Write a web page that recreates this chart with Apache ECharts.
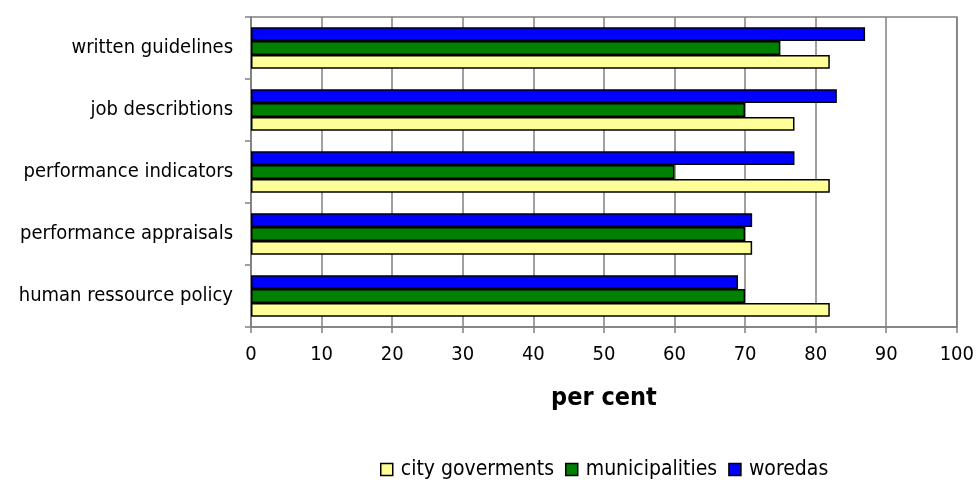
<!DOCTYPE html>
<html>
<head>
<meta charset="utf-8">
<script src="https://cdn.jsdelivr.net/npm/echarts@6/dist/echarts.min.js"></script>
<style>
  html, body { margin: 0; padding: 0; background: #ffffff; }
  #chart { width: 977px; height: 480px; }
</style>
</head>
<body>
<div id="chart"></div>
<script>
// Categories listed bottom to top (category y axis runs upward)
var categories = [
  'human ressource policy',
  'performance appraisals',
  'performance indicators',
  'job describtions',
  'written guidelines'
];
var seriesNames = ['city goverments', 'municipalities', 'woredas'];
var cityGoverments = [82, 71, 82, 77, 82];
var municipalities = [70, 70, 60, 70, 75];
var woredas = [69, 71, 77, 83, 87];
var xTicks = { min: 0, max: 100, interval: 10 };

var FONT = '"DejaVu Sans Condensed", "DejaVu Sans", sans-serif';
var colors = { 'city goverments': '#FFFF99', 'municipalities': '#008000', 'woredas': '#0000FF' };
var values = { 'city goverments': cityGoverments, 'municipalities': municipalities, 'woredas': woredas };

// Within a group the first series sits at the top, so add them in reverse
// to keep city goverments at the bottom of each group.
var series = seriesNames.slice().reverse().map(function (name) {
  return {
    name: name,
    type: 'bar',
    data: values[name],
    barGap: '0%',
    barCategoryGap: '33%',
    itemStyle: { color: colors[name], borderColor: '#000000', borderWidth: 1.5 },
    emphasis: { disabled: true },
    animation: false
  };
});

var chart = echarts.init(document.getElementById('chart'), null, { renderer: 'canvas' });

chart.setOption({
  animation: false,
  backgroundColor: '#ffffff',
  textStyle: { fontFamily: FONT },
  grid: { left: 251, right: 16, top: 17, bottom: 153, containLabel: false, show: true, borderColor: '#808080', borderWidth: 1.5 },
  legend: {
    data: seriesNames,
    top: 459,
    left: 375,
    padding: [0, 5, 0, 5],
    icon: 'rect',
    itemWidth: 12,
    itemHeight: 12,
    itemGap: 11,
    selectedMode: false,
    itemStyle: { borderColor: '#000000', borderWidth: 1.5 },
    textStyle: { fontFamily: FONT, fontSize: 21, color: '#000000', padding: [0, 0, 0, 3] }
  },
  xAxis: {
    type: 'value',
    min: xTicks.min,
    max: xTicks.max,
    interval: xTicks.interval,
    name: 'per cent',
    nameLocation: 'middle',
    nameGap: 59,
    nameTextStyle: { fontFamily: FONT, fontSize: 25, fontWeight: 'bold', color: '#000000' },
    axisLine: { show: true, lineStyle: { color: '#808080', width: 1.5 } },
    axisTick: { show: true, length: 6, lineStyle: { color: '#808080', width: 1.5 } },
    axisLabel: { fontFamily: FONT, fontSize: 20, color: '#000000', margin: 18 },
    splitLine: { show: true, lineStyle: { color: '#808080', width: 1.5 } }
  },
  yAxis: {
    type: 'category',
    data: categories,
    axisLine: { show: true, lineStyle: { color: '#808080', width: 1.5 } },
    axisTick: { show: true, length: 6, lineStyle: { color: '#808080', width: 1.5 } },
    axisLabel: { fontFamily: FONT, fontSize: 20, color: '#000000', margin: 18 },
    splitLine: { show: false }
  },
  series: series
});
</script>
</body>
</html>
